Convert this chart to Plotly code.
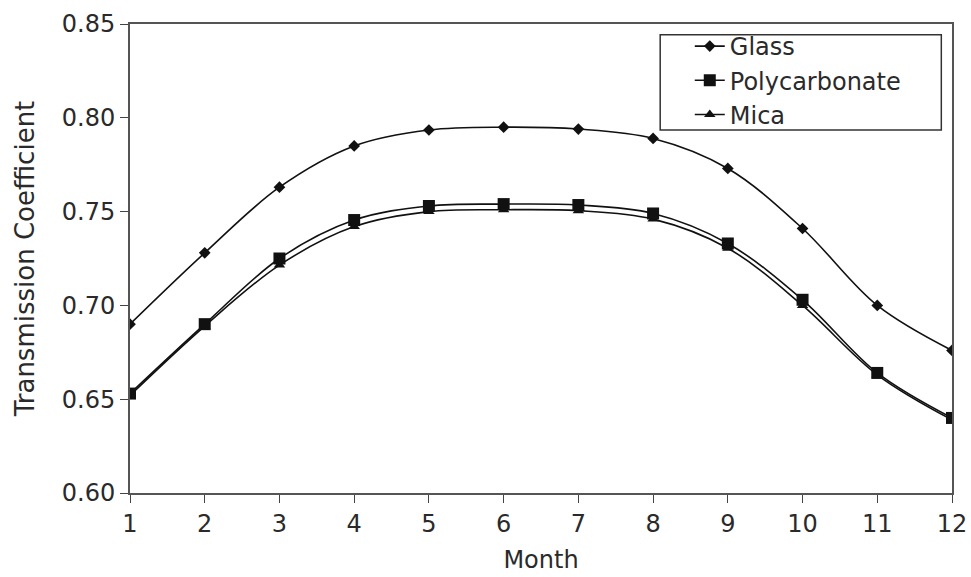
import plotly.graph_objects as go

months = [1, 2, 3, 4, 5, 6, 7, 8, 9, 10, 11, 12]
glass = [0.690, 0.728, 0.763, 0.785, 0.7935, 0.795, 0.794, 0.789, 0.773, 0.741, 0.700, 0.676]
polycarbonate = [0.653, 0.690, 0.725, 0.7455, 0.753, 0.754, 0.7535, 0.749, 0.733, 0.703, 0.664, 0.640]
mica = [0.652, 0.689, 0.7215, 0.742, 0.750, 0.751, 0.7505, 0.746, 0.7305, 0.700, 0.663, 0.639]
y_ticks = [0.60, 0.65, 0.70, 0.75, 0.80, 0.85]

fig = go.Figure()
fig.add_trace(go.Scatter(x=months, y=glass, name="Glass", mode="lines+markers",
                         line=dict(color="#111", width=1.6, shape="spline"),
                         marker=dict(symbol="diamond", size=9, color="#111")))
fig.add_trace(go.Scatter(x=months, y=mica, name="Mica", mode="lines+markers",
                         line=dict(color="#111", width=1.6, shape="spline"),
                         marker=dict(symbol="triangle-up", size=10, color="#111"),
                         showlegend=False))
fig.add_trace(go.Scatter(x=months, y=polycarbonate, name="Polycarbonate", mode="lines+markers",
                         line=dict(color="#111", width=1.6, shape="spline"),
                         marker=dict(symbol="square", size=12, color="#111")))
fig.add_trace(go.Scatter(x=[None], y=[None], name="Mica", mode="lines+markers",
                         line=dict(color="#111", width=1.6),
                         marker=dict(symbol="triangle-up", size=10, color="#111")))

# legend frame (decoration)
fig.add_shape(type="rect", xref="paper", yref="paper",
              x0=0.645, x1=0.987, y0=0.774, y1=0.977,
              line=dict(color="#333", width=1.5), fillcolor="rgba(0,0,0,0)")

fig.update_layout(
    width=971, height=577,
    margin=dict(l=130, r=19, t=24, b=84),
    paper_bgcolor="white", plot_bgcolor="white",
    font=dict(family="DejaVu Sans, sans-serif", size=24, color="#2a2a2a"),
    legend=dict(x=0.681, y=1.0, xanchor="left", yanchor="top",
                borderwidth=0, bgcolor="rgba(0,0,0,0)",
                font=dict(size=24), tracegroupgap=0, itemwidth=30),
    xaxis=dict(range=[1, 12], tickvals=months, ticks="outside", ticklen=8,
               tickcolor="#444", showline=True, linecolor="#555", linewidth=2,
               mirror=True, showgrid=False, zeroline=False, automargin=False,
               title=dict(text="Month", standoff=14, font=dict(size=24))),
    yaxis=dict(range=[0.60, 0.85], tickvals=y_ticks, tickformat=".2f",
               ticks="outside", ticklen=8, tickcolor="#444",
               showline=True, linecolor="#555", linewidth=2, mirror=True,
               showgrid=False, zeroline=False, automargin=False,
               title=dict(text="Transmission Coefficient", standoff=20, font=dict(size=26))),
)

fig.write_html("out.html")
